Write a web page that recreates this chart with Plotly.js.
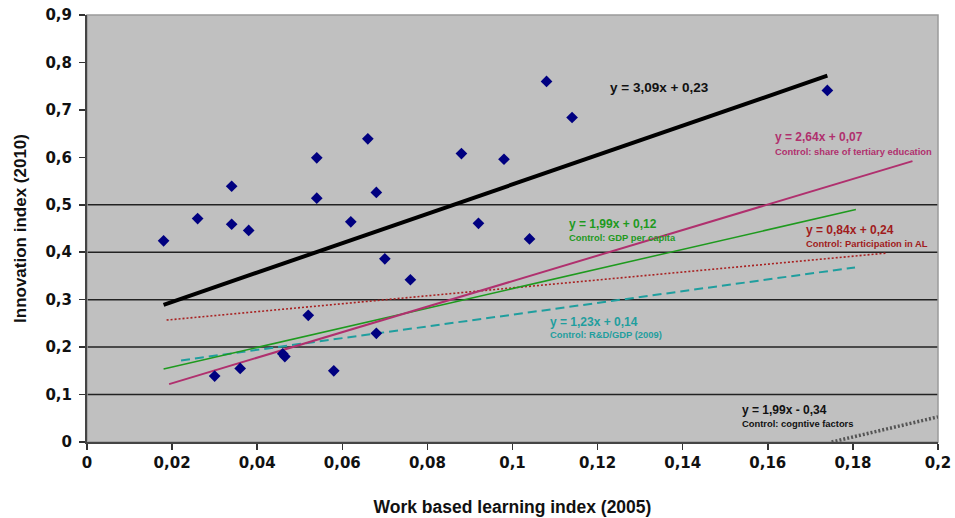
<!DOCTYPE html>
<html>
<head>
<meta charset="utf-8">
<script src="https://cdn.plot.ly/plotly-3.0.1.min.js"></script>
<style>html,body{margin:0;padding:0;background:#fff;}#chart{width:955px;height:518px;}</style>
</head>
<body>
<div id="chart"></div>
<script>
// Scatter data
var wblX = [0.018,0.026,0.030,0.034,0.034,0.036,0.038,0.046,0.0465,0.052,0.054,0.054,0.058,0.062,0.066,0.068,0.068,0.070,0.076,0.088,0.092,0.098,0.104,0.108,0.114,0.174];
var innovY = [0.424,0.471,0.139,0.539,0.459,0.155,0.446,0.186,0.180,0.267,0.599,0.514,0.150,0.464,0.639,0.526,0.229,0.386,0.342,0.608,0.461,0.596,0.428,0.760,0.684,0.741];

// Trend line endpoints
var fitMainX = [0.018, 0.174];   var fitMainY = [0.289, 0.772];
var fitTertX = [0.0193, 0.194];  var fitTertY = [0.122, 0.592];
var fitGdpX  = [0.018, 0.1807];  var fitGdpY  = [0.154, 0.490];
var fitAlX   = [0.0187, 0.1877]; var fitAlY   = [0.257, 0.398];
var fitRdX   = [0.0221, 0.1805]; var fitRdY   = [0.172, 0.368];
var fitCogX  = [0.175, 0.2];     var fitCogY  = [0.0, 0.053];

// Tick labels
var xTickVals = [0,0.02,0.04,0.06,0.08,0.1,0.12,0.14,0.16,0.18,0.2];
var xTickText = ["0","0,02","0,04","0,06","0,08","0,1","0,12","0,14","0,16","0,18","0,2"];
var yTickVals = [0,0.1,0.2,0.3,0.4,0.5,0.6,0.7,0.8,0.9];
var yTickText = ["0","0,1","0,2","0,3","0,4","0,5","0,6","0,7","0,8","0,9"];
var gridVals = [0.1,0.2,0.3,0.4,0.5];

var traces = [
  {x: fitCogX, y: fitCogY, mode:'lines', line:{color:'#555555', width:3.5, dash:'2px,2px'}, hoverinfo:'skip'},
  {x: fitRdX, y: fitRdY, mode:'lines', line:{color:'#1f9e9e', width:2, dash:'9px,5px'}},
  {x: fitAlX, y: fitAlY, mode:'lines', line:{color:'#a82222', width:1.6, dash:'2px,2px'}},
  {x: fitGdpX, y: fitGdpY, mode:'lines', line:{color:'#1e9a1e', width:1.5}},
  {x: fitTertX, y: fitTertY, mode:'lines', line:{color:'#b0306e', width:2}},
  {x: fitMainX, y: fitMainY, mode:'lines', line:{color:'#000000', width:4}},
  {x: wblX, y: innovY, mode:'markers', marker:{symbol:'diamond', size:9, color:'#000080', line:{width:0}}}
];

var shapes = gridVals.map(function(v){
  return {type:'line', xref:'paper', yref:'y', x0:0, x1:1, y0:v, y1:v, line:{color:'#222222', width:1.5}, layer:'below'};
});
shapes.push({type:'rect', xref:'paper', yref:'paper', x0:0, x1:1, y0:0, y1:1, line:{color:'#9a9a9a', width:1.5}, layer:'below'});

var fEq = 'Liberation Sans, Arial, sans-serif';
function ann(x, y, text, size, color){
  return {x:x, y:y, xref:'x', yref:'y', text:text, showarrow:false, xanchor:'left', yanchor:'middle',
          font:{family:fEq, size:size, color:color, weight:'bold'}};
}
var annotations = [
  ann(0.1224, 0.747, '<b>y = 3,09x + 0,23</b>', 13.5, '#111111'),
  ann(0.1612, 0.642, '<b>y = 2,64x + 0,07</b>', 12, '#b0306e'),
  ann(0.1612, 0.612, '<b>Control: share of tertiary education</b>', 9.4, '#b0306e'),
  ann(0.1128, 0.459, '<b>y = 1,99x + 0,12</b>', 12, '#1e9a1e'),
  ann(0.1128, 0.430, '<b>Control: GDP per capita</b>', 9.4, '#1e9a1e'),
  ann(0.1685, 0.446, '<b>y = 0,84x + 0,24</b>', 12, '#a01c1c'),
  ann(0.1685, 0.418, '<b>Control: Participation in AL</b>', 9.4, '#a01c1c'),
  ann(0.1083, 0.253, '<b>y = 1,23x + 0,14</b>', 12, '#1f9e9e'),
  ann(0.1083, 0.226, '<b>Control: R&amp;D/GDP (2009)</b>', 9.4, '#1f9e9e'),
  ann(0.1535, 0.0675, '<b>y = 1,99x - 0,34</b>', 12, '#111111'),
  ann(0.1535, 0.040, '<b>Control: cogntive factors</b>', 9.4, '#111111')
];

var tickFont = {family:'DejaVu Sans, sans-serif', size:15, color:'#111111', weight:'bold'};
var layout = {
  width:955, height:518,
  margin:{l:87, r:17, t:15, b:76, pad:0},
  paper_bgcolor:'#ffffff', plot_bgcolor:'#c0c0c0',
  showlegend:false,
  xaxis:{range:[0,0.2], tickvals:xTickVals, ticktext:xTickText, showgrid:false, zeroline:false,
         showline:true, linecolor:'#444444', linewidth:2, ticks:'outside', ticklen:6, tickwidth:1.5, tickcolor:'#333333',
         tickfont:tickFont, fixedrange:true,
         title:{text:'<b>Work based learning index (2005)</b>', font:{family:fEq, size:17.5, color:'#111111'}, standoff:30}},
  yaxis:{range:[0,0.9], tickvals:yTickVals, ticktext:yTickText, showgrid:false, zeroline:false,
         showline:true, linecolor:'#444444', linewidth:2, ticks:'outside', ticklen:6, tickwidth:1.5, tickcolor:'#333333',
         tickfont:tickFont, ticklabelstandoff:4, fixedrange:true,
         title:{text:'<b>Innovation index (2010)</b>', font:{family:fEq, size:17, color:'#111111'}, standoff:14}},
  shapes:shapes,
  annotations:annotations
};
Plotly.newPlot('chart', traces, layout, {displayModeBar:false, staticPlot:true});
</script>
</body>
</html>
